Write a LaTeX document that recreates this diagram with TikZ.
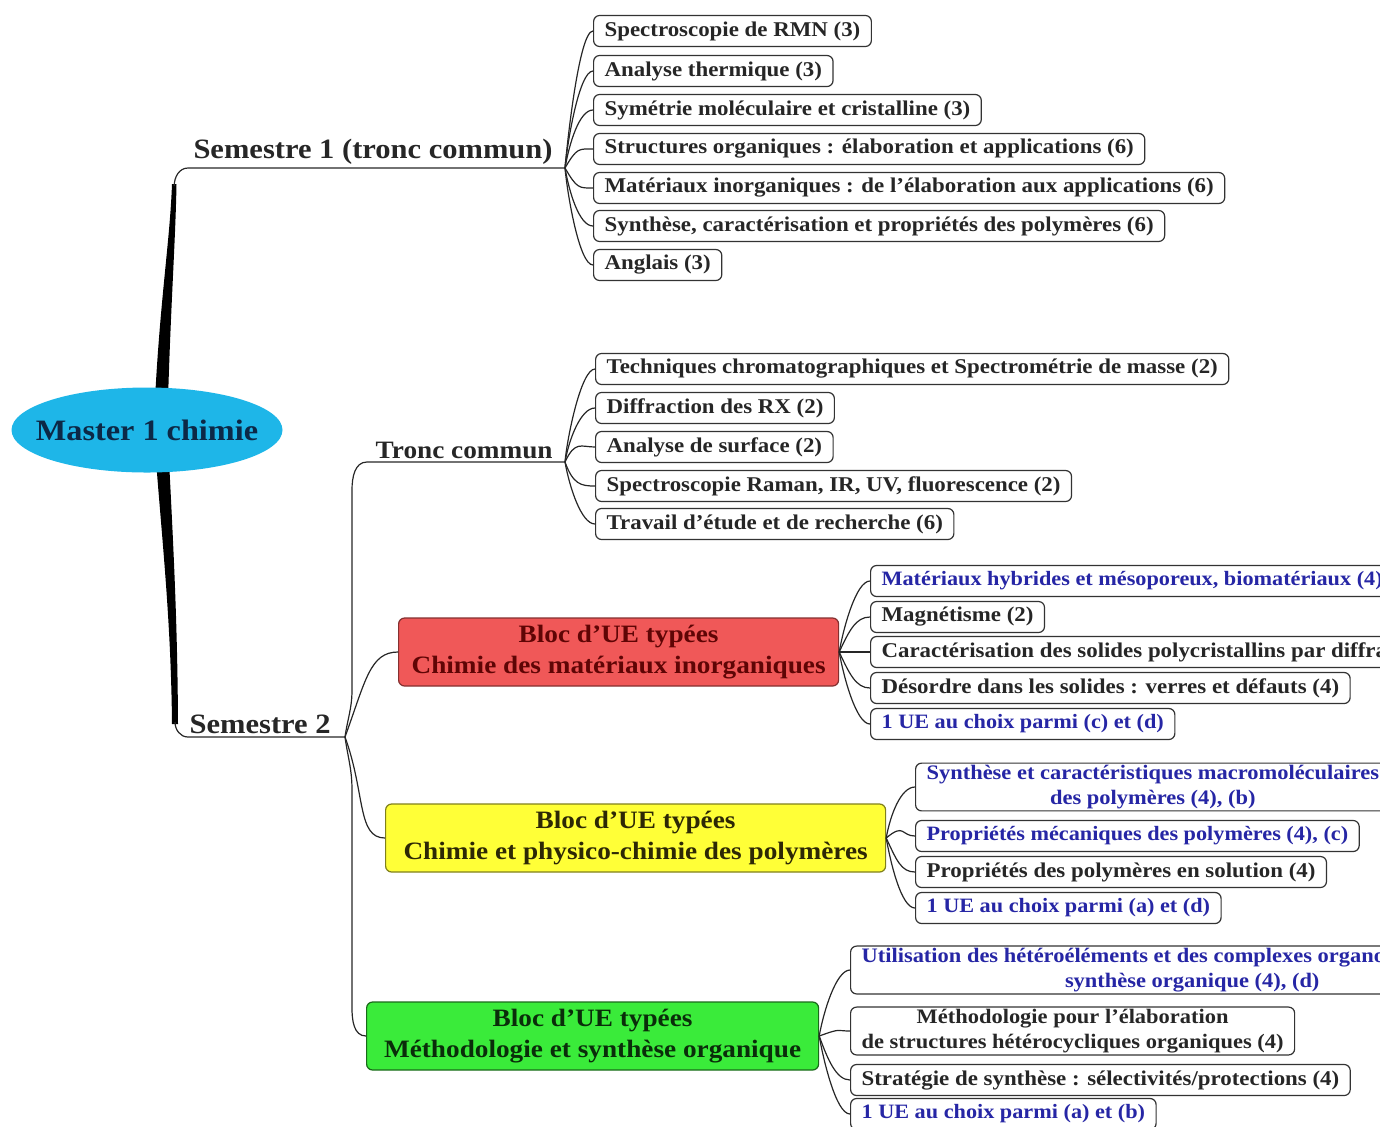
\documentclass[tikz,border=0pt]{standalone}
\usepackage{fontspec}
\setmainfont{Liberation Serif}[FakeStretch=1.09]
\usetikzlibrary{shapes.geometric}

\definecolor{rootblue}{RGB}{30,182,232}
\definecolor{rootink}{RGB}{12,40,70}
\definecolor{matred}{RGB}{240,88,88}
\definecolor{matink}{RGB}{95,5,5}
\definecolor{polyyellow}{RGB}{255,255,55}
\definecolor{polyink}{RGB}{45,40,5}
\definecolor{orgagreen}{RGB}{58,235,58}
\definecolor{orgaink}{RGB}{10,45,10}
\definecolor{ueblue}{RGB}{38,38,165}

\tikzset{
  ue/.style={draw=black!80, line width=0.6pt, rounded corners=3pt, fill=white,
    anchor=west, minimum height=15.5pt, inner xsep=5.5pt, inner ysep=1pt,
    font=\bfseries\fontsize{10.5}{12}\selectfont, text=black!85},
  uebleu/.style={ue, text=ueblue, font=\bfseries\fontsize{10.2}{12}\selectfont},
  deuxlignes/.style={align=center, font=\bfseries\fontsize{10.3}{12.5}\selectfont},
  bloc/.style={draw, line width=0.6pt, rounded corners=3pt, anchor=west,
    minimum height=34pt, align=center, font=\bfseries\fontsize{12.5}{15.5}\selectfont},
  titre/.style={anchor=south east, inner sep=1.5pt, text=black!85,
    font=\bfseries\fontsize{14}{16}\selectfont},
  branche/.style={line width=0.6pt, black!85},
  fan/.style={in=180, out distance=12pt, in distance=7pt}
}

\begin{document}
\begin{tikzpicture}[x=0.5pt, y=-0.5pt]
  \useasboundingbox (0,0) rectangle (1380,1126);
  \clip (0,0) rectangle (1380,1126);

  \coordinate (hub1) at (565,168);
  \coordinate (hub2) at (345,737);
  \coordinate (hub3) at (565,462);
  \coordinate (centre) at (147,430);

  % troncs
  \fill[black] (155,400) .. controls (160,300) and (170,240) .. (172,184)
    -- (176.5,184) .. controls (175.5,240) and (171,300) .. (168,400) -- cycle;
  \draw[branche] (174.2,186) to[out=90,in=180] (188,168) -- (hub1);
  \fill[black] (156,460) .. controls (162,540) and (171,620) .. (172,724)
    -- (178,724) .. controls (177.5,620) and (173,540) .. (169,460) -- cycle;
  \draw[branche] (175,722) to[out=-90,in=180] (188,737) -- (hub2);

  \fill[rootblue] (centre) ellipse [x radius=67.75pt, y radius=21.25pt];
  \node[text=rootink, font=\bfseries\fontsize{14.8}{18}\selectfont] (root) at (centre) {Master 1 chimie};

  \node[titre] (sem1) at (556,168) {Semestre 1 (tronc commun)};
  \node[titre] (sem2) at (334,737) {Semestre 2};
  \node[titre, font=\bfseries\fontsize{12.5}{15}\selectfont] (tc) at (556,462) {Tronc commun};

  % semestre 1
  \node[ue] (s1a) at (593,31) {Spectroscopie de RMN (3)};
  \node[ue] (s1b) at (593,71) {Analyse thermique (3)};
  \node[ue] (s1c) at (593,110) {Symétrie moléculaire et cristalline (3)};
  \node[ue] (s1d) at (593,149) {Structures organiques : élaboration et applications (6)};
  \node[ue] (s1e) at (593,188) {Matériaux inorganiques : de l'élaboration aux applications (6)};
  \node[ue] (s1f) at (593,226) {Synthèse, caractérisation et propriétés des polymères (6)};
  \node[ue] (s1g) at (593,265) {Anglais (3)};
  \foreach \n/\o in {s1a/85, s1b/85, s1c/80, s1d/60, s1e/-60, s1f/-80, s1g/-85}
    \draw[branche] (hub1) to[fan, out=\o] (\n.west);

  % semestre 2, tronc commun
  \draw[branche] (hub2) to[out=82,in=-90] (352,690) -- (352,490) to[out=90,in=180] (367,462) -- (hub3);
  \node[ue] (tca) at (595,369) {Techniques chromatographiques et Spectrométrie de masse (2)};
  \node[ue] (tcb) at (595,408) {Diffraction des RX (2)};
  \node[ue] (tcc) at (595,447) {Analyse de surface (2)};
  \node[ue] (tcd) at (595,486) {Spectroscopie Raman, IR, UV, fluorescence (2)};
  \node[ue] (tce) at (595,524) {Travail d'étude et de recherche (6)};
  \foreach \n/\o in {tca/85, tcb/80, tcc/65, tcd/-70, tce/-80}
    \draw[branche] (hub3) to[fan, out=\o] (\n.west);

  % blocs
  \node[bloc, fill=matred, draw=matred!55!black, text=matink, minimum width=220pt]
    (mat) at (398,652) {Bloc d'UE typées\\Chimie des matériaux inorganiques};
  \node[bloc, fill=polyyellow, draw=polyyellow!50!black, text=polyink, minimum width=250pt]
    (poly) at (385,838) {Bloc d'UE typées\\Chimie et physico-chimie des polymères};
  \node[bloc, fill=orgagreen, draw=orgagreen!45!black, text=orgaink, minimum width=226pt]
    (orga) at (366,1036) {Bloc d'UE typées\\Méthodologie et synthèse organique};
  \draw[branche] (hub2) to[out=70,in=180, out distance=30pt, in distance=14pt] (mat.west);
  \draw[branche] (hub2) to[out=-70,in=180, out distance=30pt, in distance=14pt] (poly.west);
  \draw[branche] (hub2) to[out=-82,in=90] (352,790) -- (352,1008) to[out=-90,in=180] (orga.west);

  % matériaux inorganiques
  \node[uebleu] (ma) at (870,581) {Matériaux hybrides et mésoporeux, biomatériaux (4)};
  \node[ue] (mb) at (870,617) {Magnétisme (2)};
  \node[ue] (mc) at (870,652) {Caractérisation des solides polycristallins par diffraction};
  \node[ue] (md) at (870,688) {Désordre dans les solides : verres et défauts (4)};
  \node[uebleu] (me) at (870,724) {1 UE au choix parmi (c) et (d)};
  \foreach \n/\o in {ma/80, mb/65, md/-65, me/-80}
    \draw[branche] (mat.east) to[fan, out=\o] (\n.west);
  \draw[branche] (mat.east) -- (mc.west);

  % polymères
  \node[uebleu, deuxlignes] (pa) at (915,787)
    {Synthèse et caractéristiques macromoléculaires\\des polymères (4), (b)};
  \node[uebleu] (pb) at (915,836) {Propriétés mécaniques des polymères (4), (c)};
  \node[ue] (pc) at (915,872) {Propriétés des polymères en solution (4)};
  \node[uebleu] (pd) at (915,908) {1 UE au choix parmi (a) et (d)};
  \foreach \n/\o in {pa/80, pb/40, pc/-65, pd/-80}
    \draw[branche] (poly.east) to[fan, out=\o] (\n.west);

  % synthèse organique
  \node[uebleu, deuxlignes] (oa) at (850,970)
    {Utilisation des hétéroéléments et des complexes organométalliques en\\synthèse organique (4), (d)};
  \node[ue, deuxlignes] (ob) at (850,1031)
    {Méthodologie pour l'élaboration\\de structures hétérocycliques organiques (4)};
  \node[ue] (oc) at (850,1080) {Stratégie de synthèse : sélectivités/protections (4)};
  \node[uebleu] (od) at (850,1114) {1 UE au choix parmi (a) et (b)};
  \foreach \n/\o in {oa/80, ob/20, oc/-70, od/-80}
    \draw[branche] (orga.east) to[fan, out=\o] (\n.west);
\end{tikzpicture}
\end{document}
